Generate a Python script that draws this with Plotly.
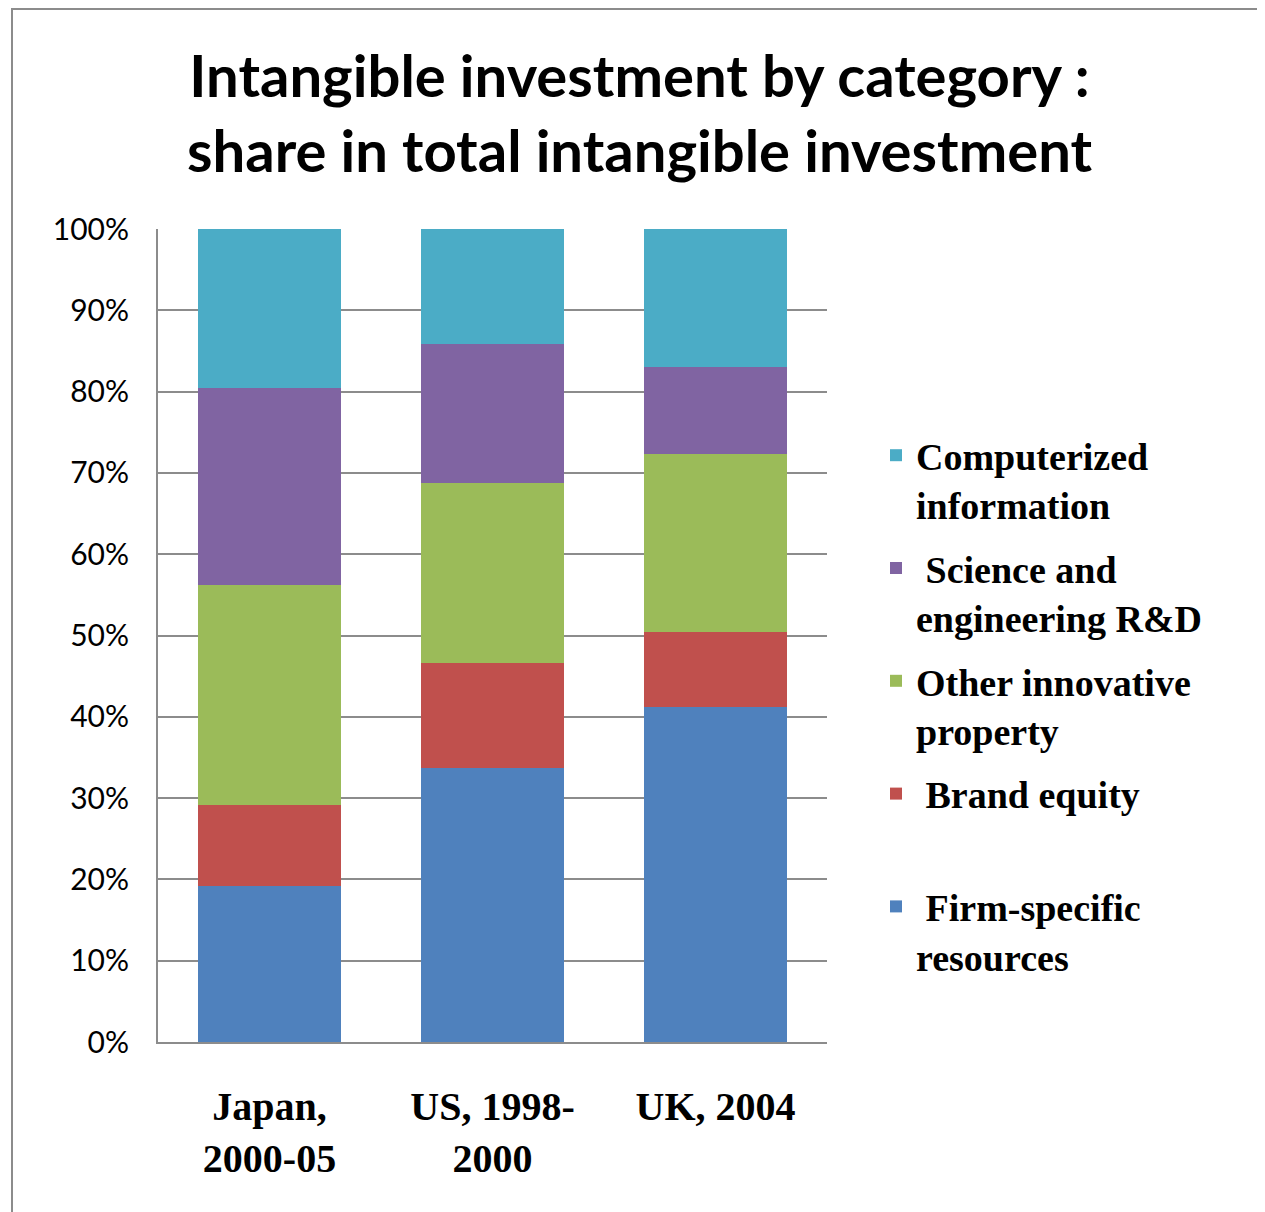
import plotly.graph_objects as go

categories = ["Japan,<br>2000-05", "US, 1998-<br>2000", "UK, 2004"]
series_names = [
    "\u00a0Firm-specific<br>resources",
    "\u00a0Brand equity<br>\u00a0",
    "Other innovative<br>property",
    "\u00a0Science and<br>engineering R&D",
    "Computerized<br>information",
]
firm_specific = [19.2, 33.7, 41.2]
brand_equity = [9.9, 12.9, 9.2]
other_innovative = [27.1, 22.2, 21.9]
science_rd = [24.2, 17.1, 10.7]
computerized = [19.6, 14.1, 17.0]
series_values = [firm_specific, brand_equity, other_innovative, science_rd, computerized]
colors = ["#4F81BD", "#C0504D", "#9BBB59", "#8064A2", "#4BACC6"]
tick_vals = [0, 10, 20, 30, 40, 50, 60, 70, 80, 90, 100]
tick_text = [f"{v}%" for v in tick_vals]

W, H = 1257, 1204
L, R, T, B = 150, 438, 221, 170
pw, ph = W - L - R, H - T - B

fig = go.Figure()
n = len(series_names)
for i, (name, vals, col) in enumerate(zip(series_names, series_values, colors)):
    fig.add_trace(go.Bar(
        x=categories, y=vals, name=name, marker=dict(color=col, line=dict(width=0)),
        legendgroup=name, legendrank=1000 + (n - i),
    ))

fig.update_layout(
    width=W, height=H,
    barmode="stack", bargap=0.36,
    plot_bgcolor="white", paper_bgcolor="white",
    margin=dict(l=L, r=R, t=T, b=B),
    showlegend=True,
    legend=dict(
        x=(868 - L) / pw, xanchor="left", y=(H - B - 416) / ph, yanchor="top",
        traceorder="grouped", valign="top", tracegroupgap=11,
        font=dict(family="Liberation Serif", size=38, color="black", weight="bold"),
        bgcolor="rgba(0,0,0,0)",
    ),
    font=dict(family="Lato", color="black"),
)
fig.update_yaxes(
    range=[0, 100], tickvals=tick_vals, ticktext=tick_text,
    showgrid=True, gridcolor="#8C8C8C", gridwidth=2,
    showline=True, linecolor="#8C8C8C", linewidth=2,
    ticks="", tickfont=dict(family="Lato", size=30, color="black"),
    ticklabelstandoff=21, zeroline=False,
)
fig.update_xaxes(
    showline=True, linecolor="#8C8C8C", linewidth=2, ticks="",
    tickfont=dict(family="Liberation Serif", size=40, color="black", weight="bold"),
    ticklabelstandoff=28,
)
# chart outer border
fig.add_shape(type="rect", xref="paper", yref="paper",
              x0=(4 - L) / pw, x1=(W + 20 - L) / pw,
              y0=(H - B - H - 20) / ph, y1=(H - B - 1) / ph,
              line=dict(color="#8C8C8C", width=2), fillcolor="rgba(0,0,0,0)", layer="below")
fig.add_annotation(
    text="Intangible investment by category :<br>share in total intangible investment",
    xref="paper", yref="paper", x=(632 - L) / pw, y=(H - B - 30) / ph,
    xanchor="center", yanchor="top", showarrow=False, align="center",
    font=dict(family="Lato", size=58, color="black", weight="bold"),
)
fig.write_html("out.html")
